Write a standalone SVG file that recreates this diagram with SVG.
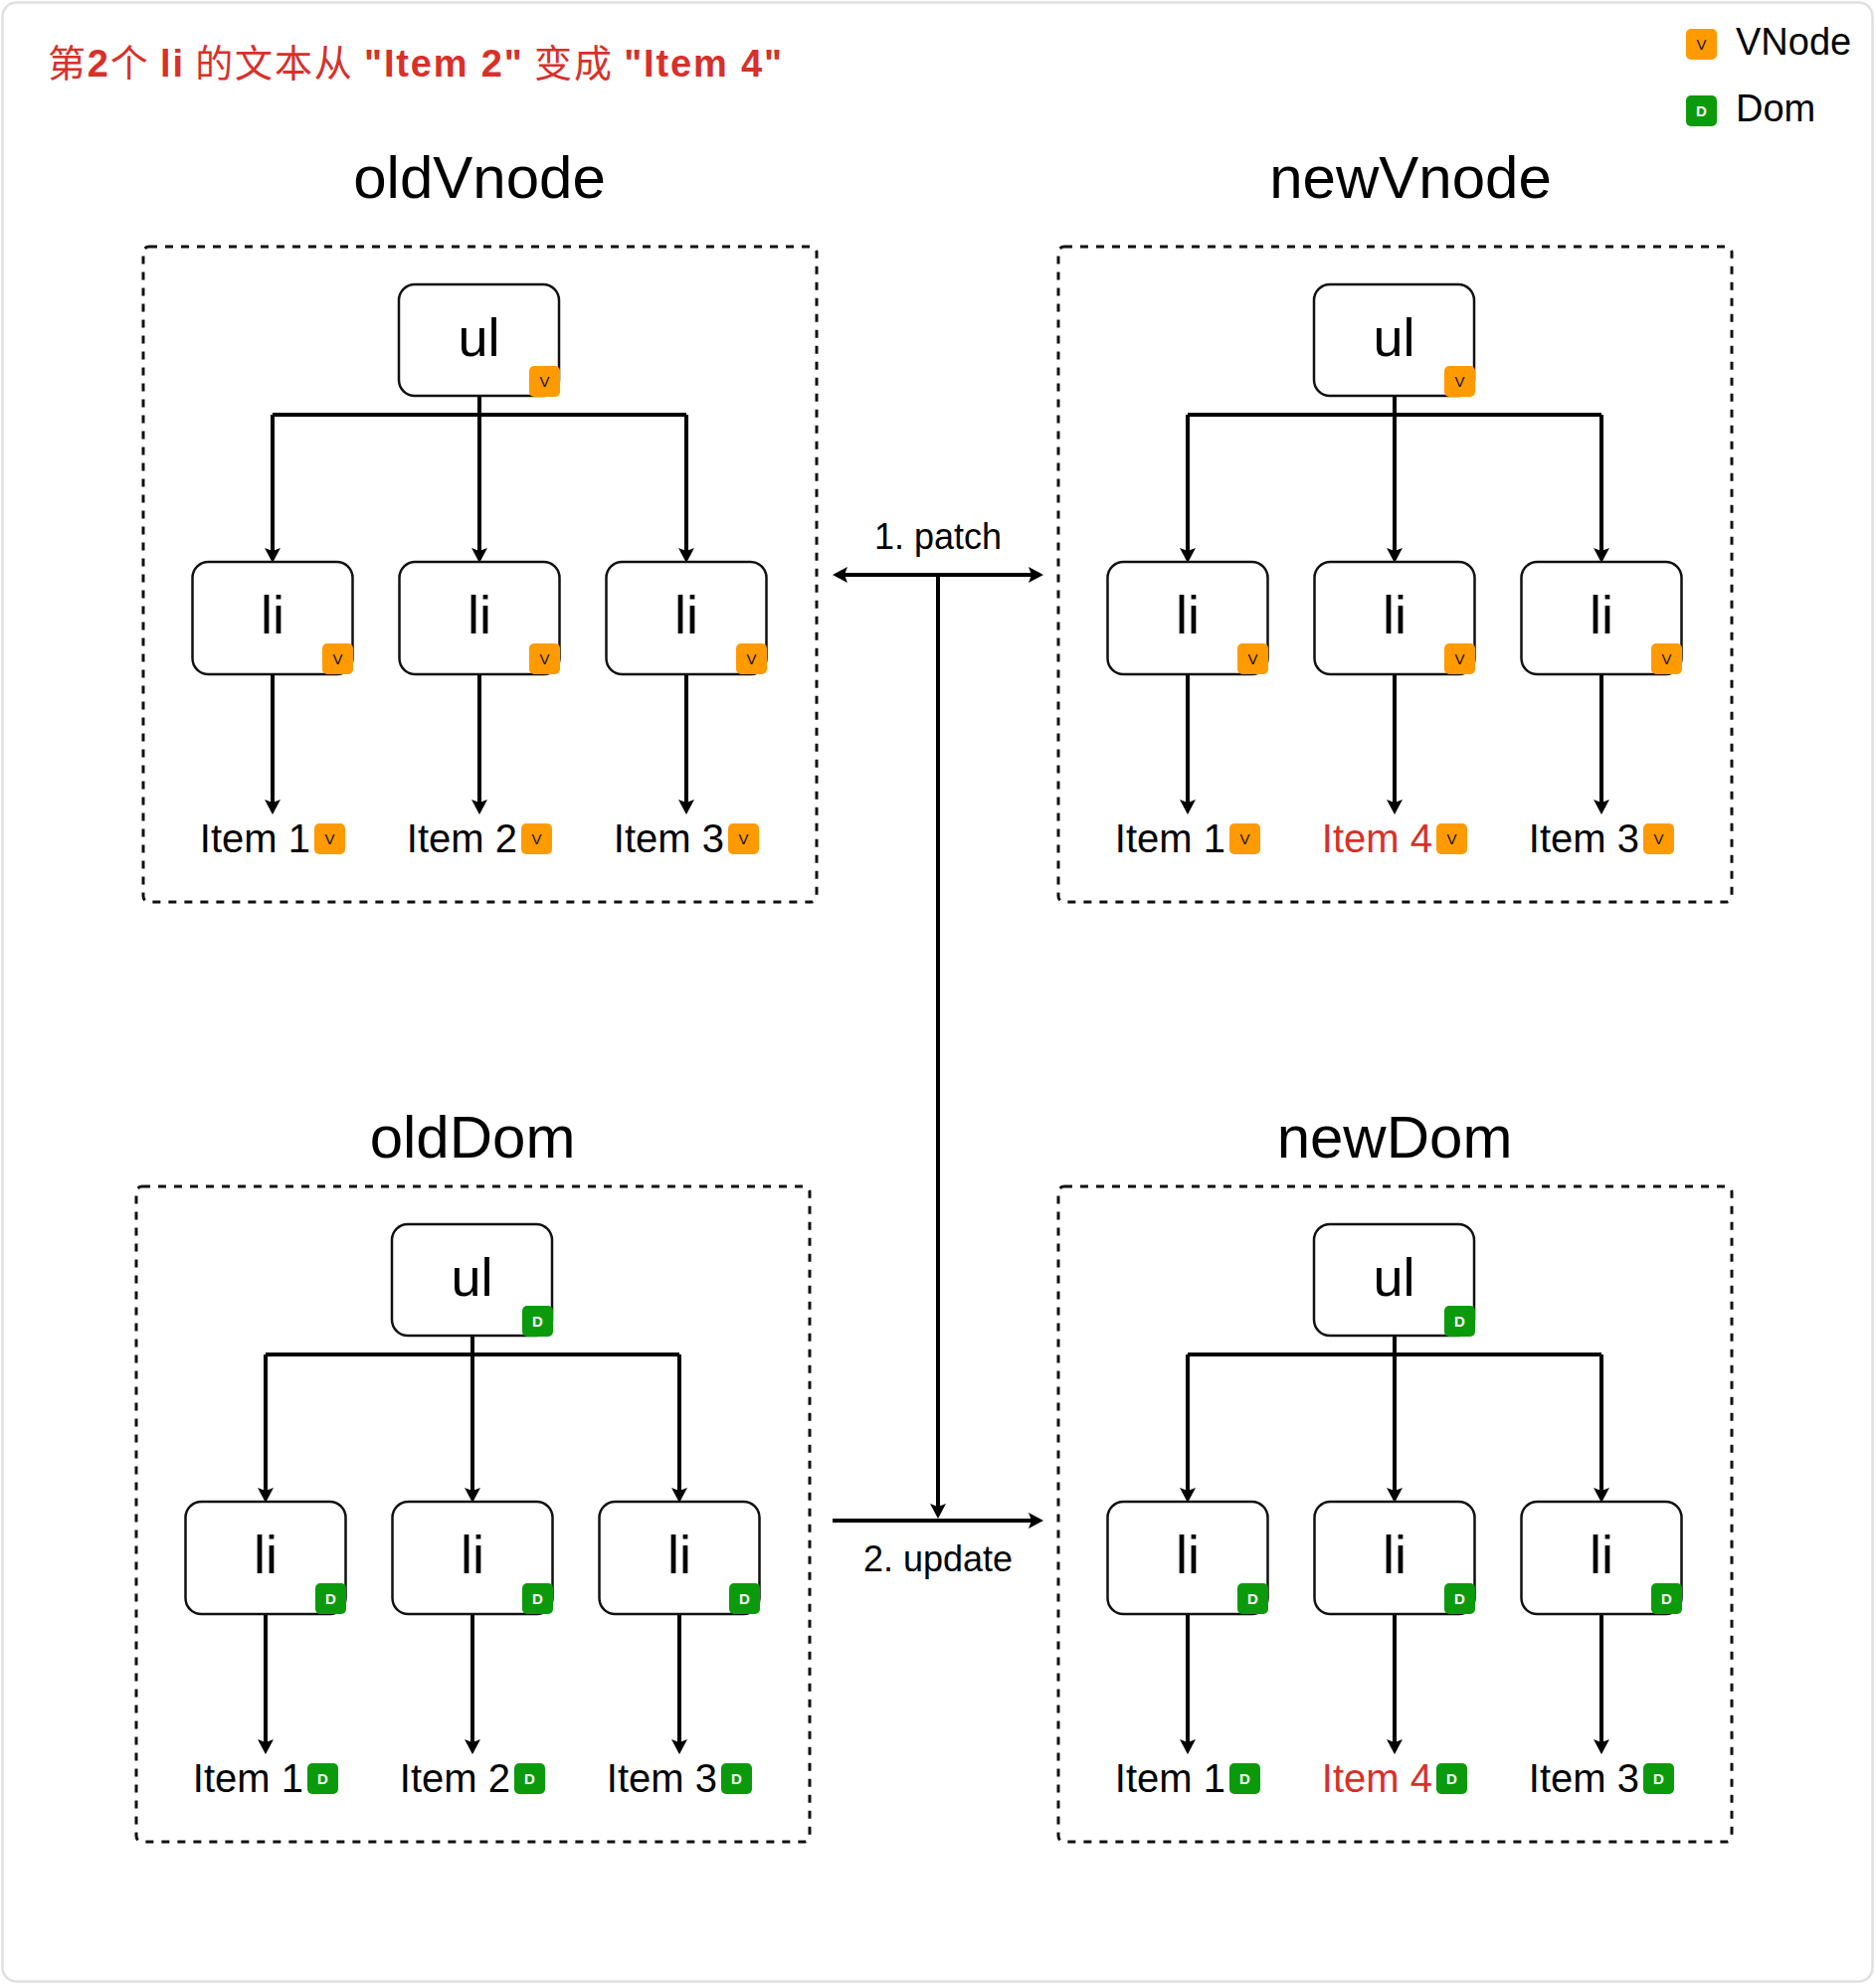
<svg xmlns="http://www.w3.org/2000/svg" width="1886" height="1996" viewBox="0 0 1886 1996">
<style>
.frame{fill:#fff;stroke:#e0e0e0;stroke-width:2.5}
.grp{fill:none;stroke:#111;stroke-width:3;stroke-dasharray:8 8}
.box{fill:#fff;stroke:#111;stroke-width:2.5}
.t{font-family:"Liberation Sans",Arial,sans-serif;fill:#000}
.title{font-size:60px;text-anchor:middle}
.node{font-size:54px;text-anchor:middle}
.item{font-size:40px;text-anchor:end}
.lbl{font-size:36px;text-anchor:middle}
.red{fill:#d8302a}
.bv{fill:#ff9a00}
.bd{fill:#0b9a0b}
.btv{font-family:"Liberation Sans",Arial,sans-serif;font-size:15px;fill:#111;text-anchor:middle}
.btd{font-family:"Liberation Sans",Arial,sans-serif;font-size:15px;font-weight:bold;fill:#fff;text-anchor:middle}
.c{fill:none;stroke:#000;stroke-width:4}
.a{marker-end:url(#ah)}
.cjk{font-family:"Noto Sans CJK SC",sans-serif}
.lat{font-family:"Liberation Sans",Arial,sans-serif;font-weight:bold}
</style>
<defs>
<marker id="ah" viewBox="0 0 15 17" refX="10" refY="8.5" markerWidth="15" markerHeight="17" markerUnits="userSpaceOnUse" orient="auto-start-reverse">
<path d="M0,0.5 L15,8.5 L0,16.5 L3,8.5 Z" fill="#000"/>
</marker>
<g id="bV"><rect class="bv" width="31" height="31" rx="5"/><text class="btv" x="15.5" y="21">V</text></g>
<g id="bD"><rect class="bd" width="31" height="31" rx="5"/><text class="btd" x="15.5" y="21">D</text></g>
</defs>

<rect class="frame" x="2.5" y="2.5" width="1880" height="1990" rx="14"/>

<text x="48" y="77" font-size="38" class="red" style="fill:#d8302a" textLength="738" lengthAdjust="spacing"><tspan class="cjk">第</tspan><tspan class="lat">2</tspan><tspan class="cjk">个 </tspan><tspan class="lat">li</tspan><tspan class="cjk"> 的文本从 </tspan><tspan class="lat">"Item 2"</tspan><tspan class="cjk"> 变成 </tspan><tspan class="lat">"Item 4"</tspan></text>

<g id="legend">
<use href="#bV" x="1695" y="29"/>
<text class="t" x="1745" y="55" font-size="38">VNode</text>
<use href="#bD" x="1695" y="96"/>
<text class="t" x="1745" y="122" font-size="38">Dom</text>
</g>

<text class="t title" x="482" y="199">oldVnode</text>
<text class="t title" x="1418" y="199">newVnode</text>
<text class="t title" x="475" y="1164">oldDom</text>
<text class="t title" x="1402" y="1164">newDom</text>

<g id="groups">
<rect id="grp-oldVnode" class="grp" x="144" y="248" width="677" height="659" rx="6"/>
<rect id="grp-newVnode" class="grp" x="1064" y="248" width="677" height="659" rx="6"/>
<rect id="grp-oldDom" class="grp" x="137" y="1193" width="677" height="659" rx="6"/>
<rect id="grp-newDom" class="grp" x="1064" y="1193" width="677" height="659" rx="6"/>
</g>

<g id="connectors">
<g transform="translate(0,0)">
<path class="c a" d="M482,398 V561"/><path class="c" d="M274,417 H690"/>
<path class="c a" d="M274,417 V561"/><path class="c a" d="M690,417 V561"/>
<path class="c a" d="M274,678 V814"/><path class="c a" d="M482,678 V814"/><path class="c a" d="M690,678 V814"/>
</g>
<g transform="translate(920,0)">
<path class="c a" d="M482,398 V561"/><path class="c" d="M274,417 H690"/>
<path class="c a" d="M274,417 V561"/><path class="c a" d="M690,417 V561"/>
<path class="c a" d="M274,678 V814"/><path class="c a" d="M482,678 V814"/><path class="c a" d="M690,678 V814"/>
</g>
<g transform="translate(-7,945)">
<path class="c a" d="M482,398 V561"/><path class="c" d="M274,417 H690"/>
<path class="c a" d="M274,417 V561"/><path class="c a" d="M690,417 V561"/>
<path class="c a" d="M274,678 V814"/><path class="c a" d="M482,678 V814"/><path class="c a" d="M690,678 V814"/>
</g>
<g transform="translate(920,945)">
<path class="c a" d="M482,398 V561"/><path class="c" d="M274,417 H690"/>
<path class="c a" d="M274,417 V561"/><path class="c a" d="M690,417 V561"/>
<path class="c a" d="M274,678 V814"/><path class="c a" d="M482,678 V814"/><path class="c a" d="M690,678 V814"/>
</g>
<path id="patch" class="c" d="M842,578 H1044" marker-start="url(#ah)" marker-end="url(#ah)"/>
<path id="flow" class="c a" d="M943,578 V1522"/>
<path id="update" class="c a" d="M837,1529 H1044"/>
<text class="t lbl" x="943" y="552">1. patch</text>
<text class="t lbl" x="943" y="1580">2. update</text>
</g>

<!-- oldVnode tree -->
<g id="oldVnode" transform="translate(0,0)">
<g id="ov-ul"><rect class="box" x="401" y="286" width="161" height="112" rx="16"/><text class="t node" x="481.5" y="358">ul</text><use href="#bV" x="532" y="368"/></g>
<g id="ov-li1"><rect class="box" x="193.5" y="565" width="161" height="113" rx="16"/><text class="t node" x="274" y="637">li</text><use href="#bV" x="324" y="647"/></g>
<g id="ov-li2"><rect class="box" x="401.5" y="565" width="161" height="113" rx="16"/><text class="t node" x="482" y="637">li</text><use href="#bV" x="532" y="647"/></g>
<g id="ov-li3"><rect class="box" x="609.5" y="565" width="161" height="113" rx="16"/><text class="t node" x="690" y="637">li</text><use href="#bV" x="740" y="647"/></g>
<g id="ov-item1"><text class="t item" x="312" y="857">Item 1</text><use href="#bV" x="316" y="828"/></g>
<g id="ov-item2"><text class="t item" x="520" y="857">Item 2</text><use href="#bV" x="524" y="828"/></g>
<g id="ov-item3"><text class="t item" x="728" y="857">Item 3</text><use href="#bV" x="732" y="828"/></g>
</g>

<!-- newVnode tree -->
<g id="newVnode" transform="translate(920,0)">
<g id="nv-ul"><rect class="box" x="401" y="286" width="161" height="112" rx="16"/><text class="t node" x="481.5" y="358">ul</text><use href="#bV" x="532" y="368"/></g>
<g id="nv-li1"><rect class="box" x="193.5" y="565" width="161" height="113" rx="16"/><text class="t node" x="274" y="637">li</text><use href="#bV" x="324" y="647"/></g>
<g id="nv-li2"><rect class="box" x="401.5" y="565" width="161" height="113" rx="16"/><text class="t node" x="482" y="637">li</text><use href="#bV" x="532" y="647"/></g>
<g id="nv-li3"><rect class="box" x="609.5" y="565" width="161" height="113" rx="16"/><text class="t node" x="690" y="637">li</text><use href="#bV" x="740" y="647"/></g>
<g id="nv-item1"><text class="t item" x="312" y="857">Item 1</text><use href="#bV" x="316" y="828"/></g>
<g id="nv-item2"><text class="t item red" x="520" y="857">Item 4</text><use href="#bV" x="524" y="828"/></g>
<g id="nv-item3"><text class="t item" x="728" y="857">Item 3</text><use href="#bV" x="732" y="828"/></g>
</g>

<!-- oldDom tree -->
<g id="oldDom" transform="translate(-7,945)">
<g id="od-ul"><rect class="box" x="401" y="286" width="161" height="112" rx="16"/><text class="t node" x="481.5" y="358">ul</text><use href="#bD" x="532" y="368"/></g>
<g id="od-li1"><rect class="box" x="193.5" y="565" width="161" height="113" rx="16"/><text class="t node" x="274" y="637">li</text><use href="#bD" x="324" y="647"/></g>
<g id="od-li2"><rect class="box" x="401.5" y="565" width="161" height="113" rx="16"/><text class="t node" x="482" y="637">li</text><use href="#bD" x="532" y="647"/></g>
<g id="od-li3"><rect class="box" x="609.5" y="565" width="161" height="113" rx="16"/><text class="t node" x="690" y="637">li</text><use href="#bD" x="740" y="647"/></g>
<g id="od-item1"><text class="t item" x="312" y="857">Item 1</text><use href="#bD" x="316" y="828"/></g>
<g id="od-item2"><text class="t item" x="520" y="857">Item 2</text><use href="#bD" x="524" y="828"/></g>
<g id="od-item3"><text class="t item" x="728" y="857">Item 3</text><use href="#bD" x="732" y="828"/></g>
</g>

<!-- newDom tree -->
<g id="newDom" transform="translate(920,945)">
<g id="nd-ul"><rect class="box" x="401" y="286" width="161" height="112" rx="16"/><text class="t node" x="481.5" y="358">ul</text><use href="#bD" x="532" y="368"/></g>
<g id="nd-li1"><rect class="box" x="193.5" y="565" width="161" height="113" rx="16"/><text class="t node" x="274" y="637">li</text><use href="#bD" x="324" y="647"/></g>
<g id="nd-li2"><rect class="box" x="401.5" y="565" width="161" height="113" rx="16"/><text class="t node" x="482" y="637">li</text><use href="#bD" x="532" y="647"/></g>
<g id="nd-li3"><rect class="box" x="609.5" y="565" width="161" height="113" rx="16"/><text class="t node" x="690" y="637">li</text><use href="#bD" x="740" y="647"/></g>
<g id="nd-item1"><text class="t item" x="312" y="857">Item 1</text><use href="#bD" x="316" y="828"/></g>
<g id="nd-item2"><text class="t item red" x="520" y="857">Item 4</text><use href="#bD" x="524" y="828"/></g>
<g id="nd-item3"><text class="t item" x="728" y="857">Item 3</text><use href="#bD" x="732" y="828"/></g>
</g>
</svg>
